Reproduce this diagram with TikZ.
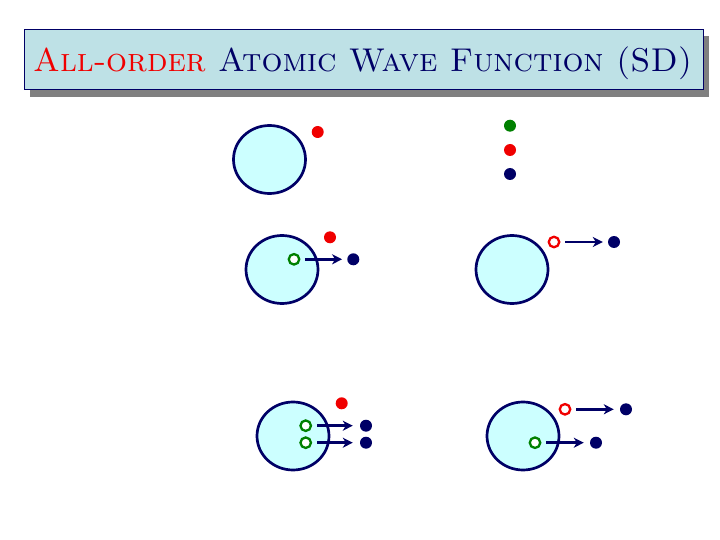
\documentclass[tikz,border=0pt]{standalone}
\usepackage{graphicx}
\definecolor{navy}{RGB}{0,0,102}
\definecolor{dred}{RGB}{240,0,0}
\definecolor{dgreen}{RGB}{0,128,0}
\definecolor{atomfill}{RGB}{204,255,255}
\definecolor{titlefill}{RGB}{190,225,230}
\definecolor{shadowgray}{RGB}{128,128,128}
\tikzset{
  atom/.style={draw=navy, line width=2.7pt, fill=atomfill, ellipse, minimum width=72pt, minimum height=68pt, inner sep=0pt},
  pdot/.style={circle, fill=#1, minimum size=12pt, inner sep=0pt},
  hole/.style={circle, draw=#1, line width=2.3pt, fill=white, minimum size=10.5pt, inner sep=0pt},
  exc/.style={-{Stealth[length=10pt,width=10pt,inset=3pt]}, draw=navy, line width=2.6pt}
}
\usetikzlibrary{shapes.geometric,arrows.meta}
\begin{document}
\begin{tikzpicture}[x=1pt,y=-1pt]
\useasboundingbox (0,0) rectangle (720,540);
% title
\fill[shadowgray] (30,36) rectangle (709,97);
\draw[navy, line width=1pt, fill=titlefill] (24,30) rectangle (703,90);
\node[anchor=base west, inner sep=0pt] (title) at (33,72)
  {\resizebox{659pt}{!}{\scshape\color{dred}All-order\ \color{navy}Atomic Wave Function (SD)}};
% atom 1
\node[atom] (a1) at (269.5,159.5) {};
\node[pdot=dred] (r1) at (317.7,132) {};
\node[pdot=dgreen] (g0) at (510,125.7) {};
\node[pdot=dred] (r0) at (510,150) {};
\node[pdot=navy] (n0) at (510,174) {};
% atom 2
\node[atom] (a2) at (282,269.5) {};
\node[pdot=dred] (r2) at (330,237.3) {};
\node[hole=dgreen] (h2) at (294,259.3) {};
\node[pdot=navy] (n2) at (353.3,259.3) {};
\draw[exc] (h2.east) ++(5pt,0) -- ([xshift=-5pt]n2.west);
% atom 3
\node[atom] (a3) at (512,269.5) {};
\node[hole=dred] (h3) at (554,242) {};
\node[pdot=navy] (n3) at (614,242) {};
\draw[exc] (h3.east) ++(5pt,0) -- ([xshift=-5pt]n3.west);
% atom 4
\node[atom] (a4) at (293,436) {};
\node[pdot=dred] (r4) at (341.7,403.3) {};
\node[hole=dgreen] (h4a) at (305.7,425.7) {};
\node[hole=dgreen] (h4b) at (305.7,442.7) {};
\node[pdot=navy] (n4a) at (366,425.7) {};
\node[pdot=navy] (n4b) at (366,442.7) {};
\draw[exc] (h4a.east) ++(5pt,0) -- ([xshift=-7pt]n4a.west);
\draw[exc] (h4b.east) ++(5pt,0) -- ([xshift=-7pt]n4b.west);
% atom 5
\node[atom] (a5) at (523,436) {};
\node[hole=dred] (h5a) at (565,409.3) {};
\node[pdot=navy] (n5a) at (626,409.3) {};
\node[hole=dgreen] (h5b) at (535,442.7) {};
\node[pdot=navy] (n5b) at (596,442.7) {};
\draw[exc] (h5a.east) ++(5pt,0) -- ([xshift=-6pt]n5a.west);
\draw[exc] (h5b.east) ++(5pt,0) -- ([xshift=-6pt]n5b.west);
\end{tikzpicture}
\end{document}
